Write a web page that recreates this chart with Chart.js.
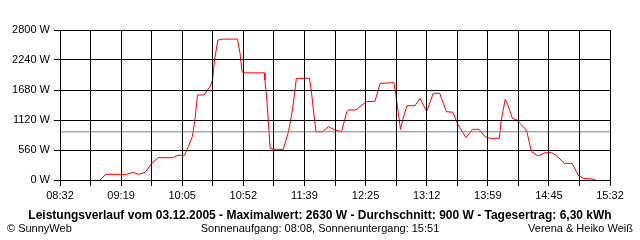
<!DOCTYPE html>
<html>
<head>
<meta charset="utf-8">
<script src="https://cdn.jsdelivr.net/npm/chart.js@4"></script>
<style>
  body { margin: 0; background: #fff; }
  #wrap { position: relative; width: 640px; height: 240px; font-family: 'Liberation Sans', Arial, sans-serif; color: #000; }
  .foot { position: absolute; font-size: 11px; line-height: 12px; white-space: nowrap; }
  #title { top: 209px; left: 0; width: 640px; text-align: center; font-weight: bold; font-size: 12px; line-height: 13px; }
  #copy { top: 222px; left: 7px; }
  #sun { top: 222px; left: 0; width: 640px; text-align: center; }
  #author { top: 222px; right: 7px; }
</style>
</head>
<body>
<div id="wrap">
  <canvas id="chart" width="640" height="240"></canvas>
  <div class="foot" id="title">Leistungsverlauf vom 03.12.2005 - Maximalwert: 2630 W - Durchschnitt: 900 W - Tagesertrag: 6,30 kWh</div>
  <div class="foot" id="copy">© SunnyWeb</div>
  <div class="foot" id="sun">Sonnenaufgang: 08:08, Sonnenuntergang: 15:51</div>
  <div class="foot" id="author">Verena &amp; Heiko Weiß</div>
</div>
<script>
// x axis labels (every second grid line carries one)
const timeLabels = ['08:32', '09:19', '10:05', '10:52', '11:39', '12:25', '13:12', '13:59', '14:45', '15:32'];
const yMax = 2800;
const yStep = 560;
const averageWatt = 900;

// power readings
const times = [
  '09:02:30', '09:07:00', '09:23:00', '09:27:30', '09:32:00', '09:37:00', '09:42:00', '09:47:00', '09:58:30', '10:01:30',
  '10:07:00', '10:10:00', '10:13:00', '10:15:00', '10:17:00', '10:22:00', '10:26:30', '10:28:30', '10:30:00', '10:32:30',
  '10:36:00', '10:47:30', '10:49:30', '10:51:00', '10:52:00', '11:08:00', '11:08:30', '11:10:00', '11:11:00', '11:12:30',
  '11:16:00', '11:22:30', '11:26:30', '11:29:30', '11:32:30', '11:42:30', '11:44:00', '11:45:30', '11:47:30', '11:52:30',
  '11:57:00', '12:02:00', '12:07:00', '12:11:00', '12:12:30', '12:18:00', '12:23:30', '12:26:00', '12:32:30', '12:36:30',
  '12:47:00', '12:48:30', '12:52:00', '12:54:00', '12:57:00', '13:03:00', '13:07:00', '13:12:00', '13:17:00', '13:22:00',
  '13:27:00', '13:32:00', '13:36:00', '13:42:00', '13:47:00', '13:52:00', '13:56:30', '14:00:30', '14:07:30', '14:09:00',
  '14:12:00', '14:14:00', '14:17:30', '14:21:00', '14:23:00', '14:27:00', '14:28:30', '14:32:00', '14:37:00', '14:42:30',
  '14:47:30', '14:51:30', '14:57:00', '15:03:00', '15:08:00', '15:12:00', '15:20:30'
];
const watts = [
  0, 106, 106, 143, 106, 143, 311, 417, 417, 460,
  460, 622, 809, 1120, 1587, 1587, 1742, 1867, 2240, 2610,
  2630, 2630, 2364, 2022, 2000, 2000, 1867, 1493, 1120, 591,
  572, 572, 902, 1307, 1898, 1898, 1648, 1307, 902, 900,
  995, 933, 902, 1275, 1307, 1307, 1419, 1462, 1470, 1804,
  1816, 1587, 946, 1151, 1387, 1387, 1524, 1275, 1618, 1618,
  1275, 1265, 1027, 790, 946, 946, 809, 778, 778, 1120,
  1506, 1400, 1151, 1120, 1058, 964, 902, 529, 448, 510,
  510, 448, 311, 311, 75, 31, 12
];

const toMin = s => {
  const p = s.split(':').map(Number);
  return p[0] * 60 + p[1] + (p[2] || 0) / 60;
};

const xMin = toMin(timeLabels[0]);
const xMax = toMin(timeLabels[timeLabels.length - 1]);
const gridCount = (timeLabels.length - 1) * 2;

const points = times.map((t, i) => ({ x: toMin(t), y: watts[i] }));

Chart.defaults.color = '#000';
Chart.defaults.font.family = "'Liberation Sans', Arial, sans-serif";
Chart.defaults.font.size = 11;

new Chart(document.getElementById('chart'), {
  type: 'line',
  data: {
    datasets: [
      {
        // average line, on top of the red curve
        data: [{ x: xMin, y: averageWatt }, { x: xMax, y: averageWatt }],
        borderColor: '#808080',
        borderWidth: 1,
        pointRadius: 0,
      },
      {
        data: points,
        borderColor: '#ff0000',
        borderWidth: 1,
        pointRadius: 0,
        tension: 0,
      },
    ],
  },
  options: {
    responsive: false,
    animation: false,
    devicePixelRatio: 1,
    layout: { padding: { top: 30, right: 30, left: 0, bottom: 0 } },
    plugins: { legend: { display: false }, tooltip: { enabled: false } },
    scales: {
      x: {
        type: 'linear',
        min: xMin,
        max: xMax,
        afterBuildTicks: (scale) => {
          scale.ticks = [];
          for (let i = 0; i <= gridCount; i++) {
            scale.ticks.push({ value: xMin + (xMax - xMin) * i / gridCount });
          }
        },
        afterFit: (scale) => { scale.height = 60; },
        ticks: {
          autoSkip: false,
          maxRotation: 0,
          padding: 3,
          callback: (value, index) => (index % 2 === 0 ? timeLabels[index / 2] : ''),
        },
        grid: { color: '#000', lineWidth: 1, tickLength: 6, z: 1 },
        border: { color: '#000', z: 1 },
      },
      y: {
        min: 0,
        max: yMax,
        afterFit: (scale) => { scale.width = 60; },
        ticks: {
          stepSize: yStep,
          padding: 4,
          callback: (value) => value + ' W',
        },
        grid: { color: '#000', lineWidth: 1, tickLength: 6, z: 1 },
        border: { color: '#000', z: 1 },
      },
    },
  },
});
</script>
</body>
</html>
